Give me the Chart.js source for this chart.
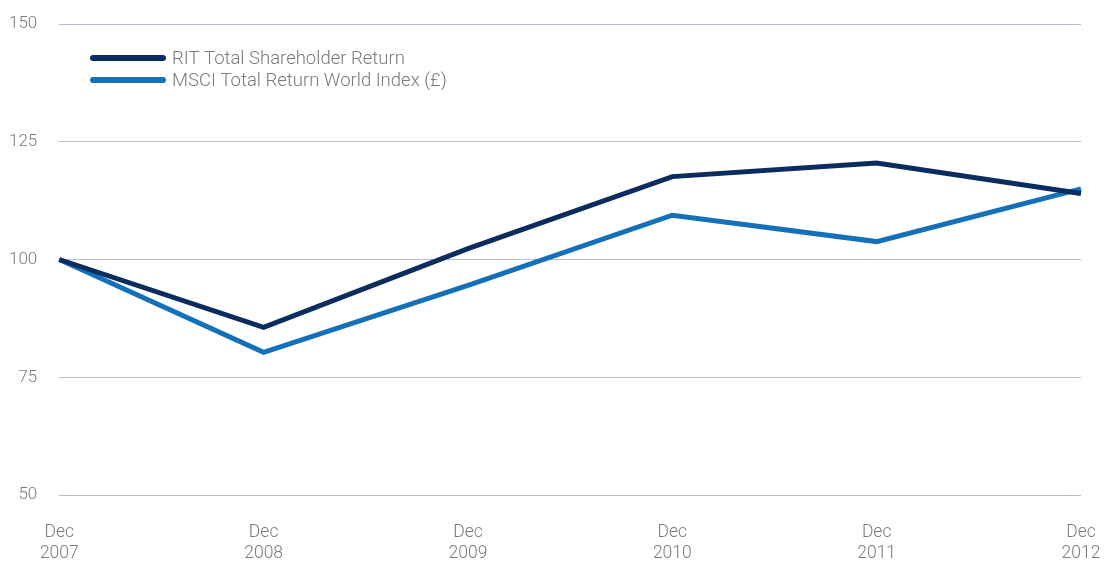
<!DOCTYPE html>
<html>
<head>
<meta charset="utf-8">
<script src="https://cdn.jsdelivr.net/npm/chart.js@4/dist/chart.umd.min.js"></script>
<style>
html,body{margin:0;padding:0;background:#fff;}
#wrap{width:1106px;height:563px;position:relative;}
</style>
</head>
<body>
<div id="wrap"><canvas id="c"></canvas></div>
<script>
const categories = [["Dec","2007"],["Dec","2008"],["Dec","2009"],["Dec","2010"],["Dec","2011"],["Dec","2012"]];
const ritValues = [100, 85.6, 102.3, 117.6, 120.5, 114.0];
const msciValues = [100, 80.3, 94.5, 109.4, 103.8, 115.0];
const yTicks = [50, 75, 100, 125, 150];
const seriesNames = ["RIT Total Shareholder Return", "MSCI Total Return World Index (£)"];

const FONT = "Roboto, 'Liberation Sans', sans-serif";
const TEXT = "#7a7a7a";

const legendPlugin = {
  id: 'customLegend',
  afterDraw(chart) {
    const ctx = chart.ctx;
    ctx.save();
    chart.data.datasets.forEach((ds, i) => {
      const y = 58 + i * 22;
      ctx.strokeStyle = ds.borderColor;
      ctx.lineWidth = 6;
      ctx.lineCap = 'round';
      ctx.beginPath();
      ctx.moveTo(93, y);
      ctx.lineTo(163, y);
      ctx.stroke();
      ctx.fillStyle = TEXT;
      ctx.font = "300 18.5px " + FONT;
      ctx.textBaseline = 'middle';
      ctx.textAlign = 'left';
      ctx.fillText(ds.label, 172, y + 1);
    });
    ctx.restore();
  }
};

new Chart(document.getElementById('c'), {
  type: 'line',
  data: {
    labels: categories,
    datasets: [
      { label: seriesNames[0], data: ritValues, borderColor: '#0b2c5e', borderWidth: 5, pointRadius: 0, tension: 0, fill: false },
      { label: seriesNames[1], data: msciValues, borderColor: '#1470b8', borderWidth: 5, pointRadius: 0, tension: 0, fill: false }
    ]
  },
  options: {
    responsive: true,
    maintainAspectRatio: false,
    animation: false,
    layout: { padding: { top: 24, right: 25, left: -13, bottom: -28 } },
    plugins: { legend: { display: false }, tooltip: { enabled: false } },
    scales: {
      x: {
        offset: false,
        afterFit(scale) { scale.paddingLeft = 0; scale.paddingRight = 0; },
        grid: { display: false, drawTicks: false },
        border: { display: false },
        ticks: { color: TEXT, font: { family: FONT, size: 17.5, weight: 300, lineHeight: 1.2 }, padding: 27, maxRotation: 0, autoSkip: false }
      },
      y: {
        min: 50, max: 150,
        afterFit(scale) { scale.paddingTop = 0; scale.paddingBottom = 0; },
        afterBuildTicks(scale) { scale.ticks = yTicks.map(v => ({ value: v })); },
        grid: { color: '#b9bdd6', lineWidth: 1, drawTicks: false },
        border: { display: false },
        ticks: { color: TEXT, font: { family: FONT, size: 17, weight: 300 }, padding: 22 }
      }
    }
  },
  plugins: [legendPlugin]
});
</script>
</body>
</html>
